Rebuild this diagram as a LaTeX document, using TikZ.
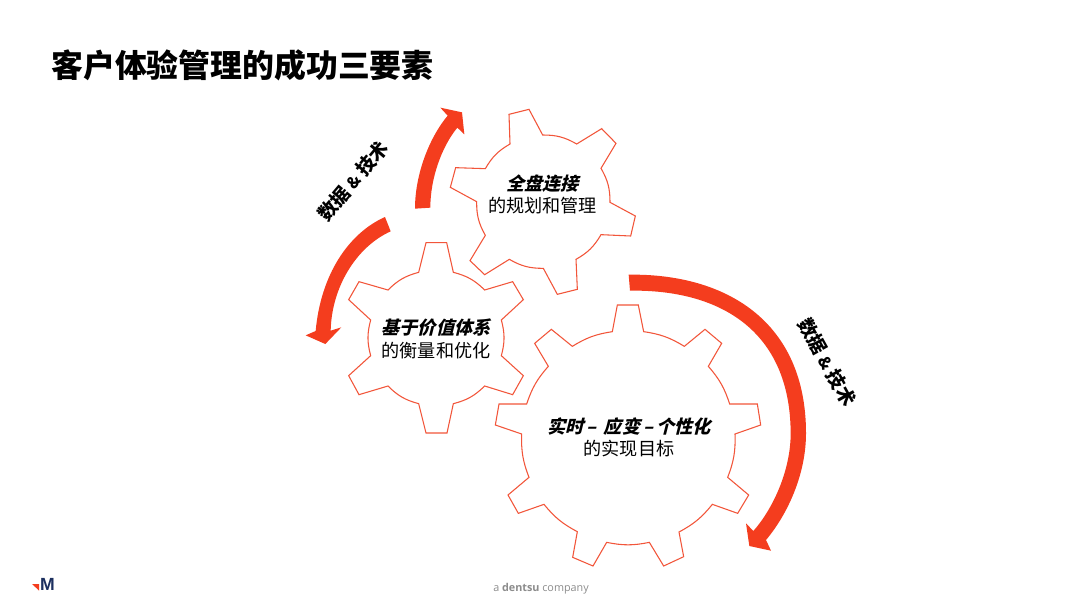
\documentclass[tikz,border=0pt]{standalone}
\usepackage{fontspec}
\setmainfont{Open Sans}
\newfontfamily\cjk{Noto Sans CJK SC}
\newfontfamily\cjkb{Noto Sans CJK SC Black}
\newfontfamily\cjkbi[FakeSlant=0.25]{Noto Sans CJK SC Black}
\newfontfamily\logofont{Liberation Sans}
\definecolor{brandred}{HTML}{F43D1E}
\definecolor{gearline}{HTML}{F2553A}
\definecolor{navy}{HTML}{1C2F5F}
\definecolor{foot}{HTML}{8C8C8C}
\tikzset{
  gear/.style={draw=gearline,line width=0.8pt,line join=miter,fill=white},
  band/.style={fill=brandred,draw=none},
  gearlabel/.style={align=center,inner sep=0pt,text=black},
  sidelabel/.style={inner sep=0pt,text=black,font=\cjkb\fontsize{14.2pt}{17pt}\selectfont},
}
\newcommand{\ftwo}{\fontsize{13.6pt}{16.4pt}\selectfont}
\begin{document}
\begin{tikzpicture}[x=0.75pt,y=-0.75pt]
\useasboundingbox (0,0) rectangle (1080,603);
\fill[white] (0,0) rectangle (1080,603);
% title
\node[anchor=west,inner sep=0pt,font=\cjkb\fontsize{23.9pt}{28pt}\selectfont] (title) at (51,65) {客户体验管理的成功三要素};
% gear top (zoom coordinates /3 + offset)
\begin{scope}[shift={(300,90)},x=0.25pt,y=-0.25pt]
\draw[gear] (627,73)--(687,58)--(728,135) to[bend left=15] (830,162)--(905,116)--(948,160)--(903,235)
 to[bend left=15] (930,337)--(1006,378)--(992,438)--(903,434)
 to[bend left=15] (828,508)--(832,598)--(772,613)--(730,535)
 to[bend left=15] (628,508)--(554,554)--(510,512)--(556,436)
 to[bend left=15] (530,335)--(451,292)--(467,233)--(556,236)
 to[bend left=15] (630,162)--cycle;
\fill[band] (345,356) .. controls (345,250) and (390,140) .. (443,77) -- (421,53) -- (486,67) -- (493,133) -- (472,113) .. controls (425,170) and (391,265) .. (391,353) -- cycle;
\end{scope}
% gear left
\begin{scope}[shift={(300,230)},x=0.25pt,y=-0.25pt]
\draw[gear] (378,38)--(440,38)--(460,127) to[bend left=15] (554,180)--(638,155)--(670,209)--(604,270)
 to[bend left=15] (604,377)--(670,437)--(638,494)--(554,468)
 to[bend left=15] (460,521)--(441,609)--(378,609)--(356,521)
 to[bend left=15] (264,468)--(177,494)--(146,437)--(212,377)
 to[bend left=15] (212,270)--(146,209)--(177,155)--(264,180)
 to[bend left=15] (356,127)--cycle;
\fill[band] (255,-39) .. controls (145,10) and (62,135) .. (47,303) -- (17,316) -- (76,342) -- (124,292) -- (92,302) .. controls (95,170) and (170,50) .. (272,4) -- cycle;
\end{scope}
% gear right
\begin{scope}[shift={(490,270)},x=0.25pt,y=-0.25pt]
\draw[gear] (382,105)--(445,105)--(461,185) to[bend left=11.5] (583,229)--(645,178)--(695,220)--(655,289)
 to[bend left=11.5] (719,402)--(802,402)--(812,465)--(735,492)
 to[bend left=11.5] (713,622)--(776,675)--(743,730)--(667,703)
 to[bend left=11.5] (567,786)--(581,860)--(521,888)--(478,817)
 to[bend left=11.5] (350,817)--(309,888)--(248,862)--(262,785)
 to[bend left=11.5] (162,703)--(85,730)--(54,675)--(117,622)
 to[bend left=11.5] (95,492)--(16,465)--(27,402)--(110,402)
 to[bend left=11.5] (175,289)--(134,220)--(184,178)--(247,229)
 to[bend left=11.5] (367,185)--cycle;
\fill[band] (416,14) .. controls (709,10) and (948,155) .. (948,490) .. controls (948,610) and (895,730) .. (828,810) -- (843,842) -- (778,828) -- (768,760) -- (790,783) .. controls (850,715) and (902,600) .. (902,490) .. controls (901,178) and (685,58) .. (420,62) -- cycle;
\end{scope}
% gear labels
\node[gearlabel,font=\cjkbi\ftwo] (l1a) at (542.5,184) {全盘连接};
\node[gearlabel,font=\cjk\ftwo] (l1b) at (542.5,205.7) {的规划和管理};
\node[gearlabel,font=\cjkbi\ftwo] (l2a) at (436,328) {基于价值体系};
\node[gearlabel,font=\cjk\ftwo] (l2b) at (436,350.7) {的衡量和优化};
\node[gearlabel,font=\cjkbi\ftwo] (l3a) at (629,427) {实时\,–\, 应变\,–\,个性化};
\node[gearlabel,font=\cjk\ftwo] (l3b) at (629,448.7) {的实现目标};
% side labels
\node[sidelabel,rotate=50] (s1) at (353,181) {数据 {\fontsize{12pt}{14pt}\selectfont\&} 技术};
\node[sidelabel,rotate=-61] (s2) at (827,362) {数据 {\fontsize{12pt}{14pt}\selectfont\&} 技术};
% logo
\fill[brandred] (32,584) -- (39,584) -- (39,590.5) -- cycle;
\node[inner sep=0pt,text=navy,font=\logofont\bfseries\fontsize{13.2pt}{14pt}\selectfont] (logo) at (47.5,584.7) {M};
% footer
\node[inner sep=0pt,text=foot,font=\fontsize{8.1pt}{10pt}\selectfont] (foot) at (541,588.5) {a \textbf{dentsu} company};
\end{tikzpicture}
\end{document}
